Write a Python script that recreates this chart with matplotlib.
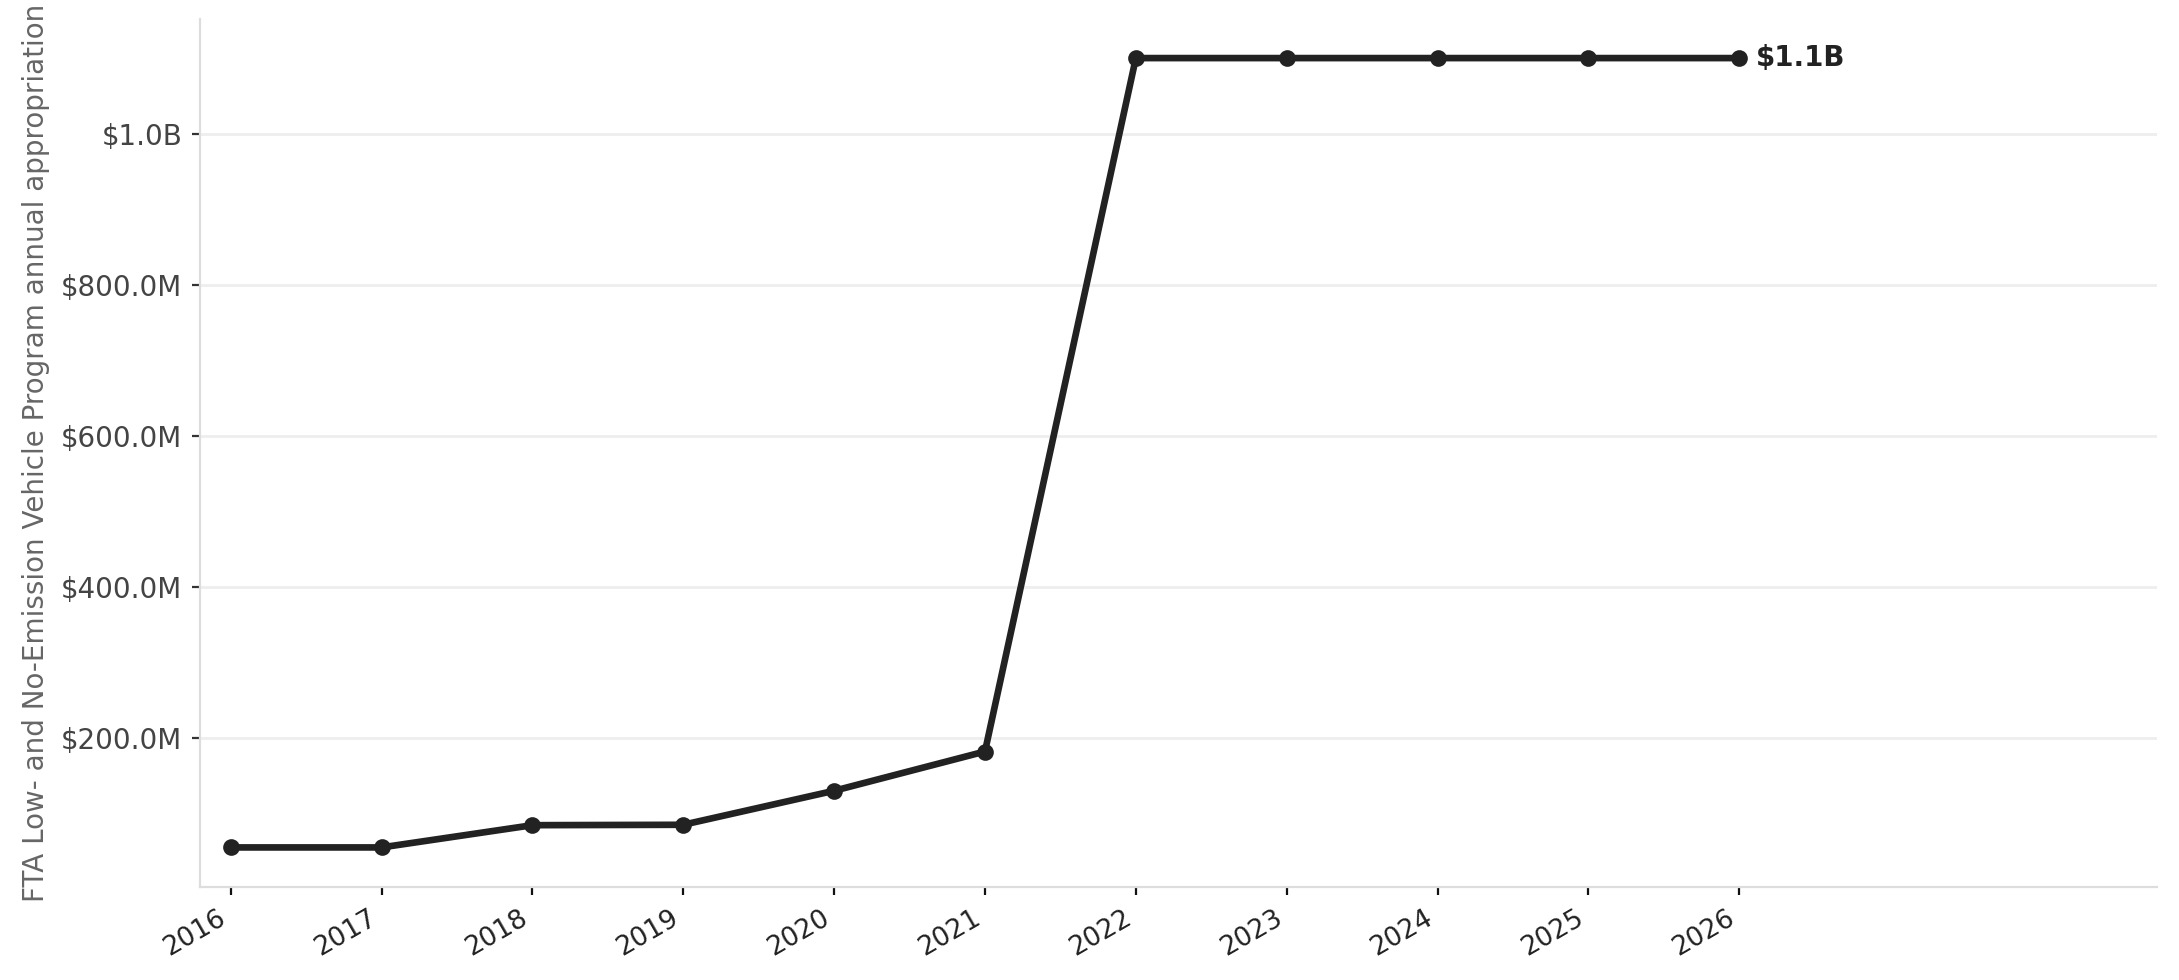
import matplotlib.pyplot as plt
from matplotlib.ticker import FuncFormatter

years = [2016, 2017, 2018, 2019, 2020, 2021, 2022, 2023, 2024, 2025, 2026]
appropriation = [55e6, 55e6, 84.45e6, 85e6, 130e6, 182e6,
                 1.1e9, 1.1e9, 1.1e9, 1.1e9, 1.1e9]
ylabel = "FTA Low- and No-Emission Vehicle Program annual appropriation"
end_label = "$1.1B"


def money(v, pos=None):
    if abs(v) >= 1e9:
        return f"${v / 1e9:.1f}B"
    return f"${v / 1e6:.1f}M"


fig = plt.figure(figsize=[10.895, 4.9], dpi=200)
ax = fig.add_axes([0.092, 0.095, 0.898, 0.886])

ax.plot(years, appropriation, color="#222222", linewidth=2.4,
        marker="o", markersize=5, zorder=3)
ax.annotate(end_label, (years[-1], appropriation[-1]), xytext=(6, 0),
            textcoords="offset points", va="center", ha="left",
            fontsize=10, fontweight="bold", color="#222222")

ax.set_xlim(2015.8, 2028.77)
ax.set_xticks(years)
ax.set_xticklabels([str(y) for y in years], rotation=30, ha="right",
                   fontsize=9.5, color="#222222")
ax.yaxis.set_major_formatter(FuncFormatter(money))
ax.set_yticks([200e6, 400e6, 600e6, 800e6, 1e9])
ax.tick_params(axis="y", labelsize=10, labelcolor="#444444", length=3,
               color="#333333")
ax.tick_params(axis="x", length=3, color="#111111")
ax.set_ylabel(ylabel, fontsize=10, color="#666666")
ax.grid(axis="y", color="#eeeeee", linewidth=1)
ax.set_axisbelow(True)
for side in ["top", "right"]:
    ax.spines[side].set_visible(False)
for side in ["left", "bottom"]:
    ax.spines[side].set_color("#dddddd")
    ax.spines[side].set_linewidth(0.8)

fig.savefig("out.png", dpi=200)
